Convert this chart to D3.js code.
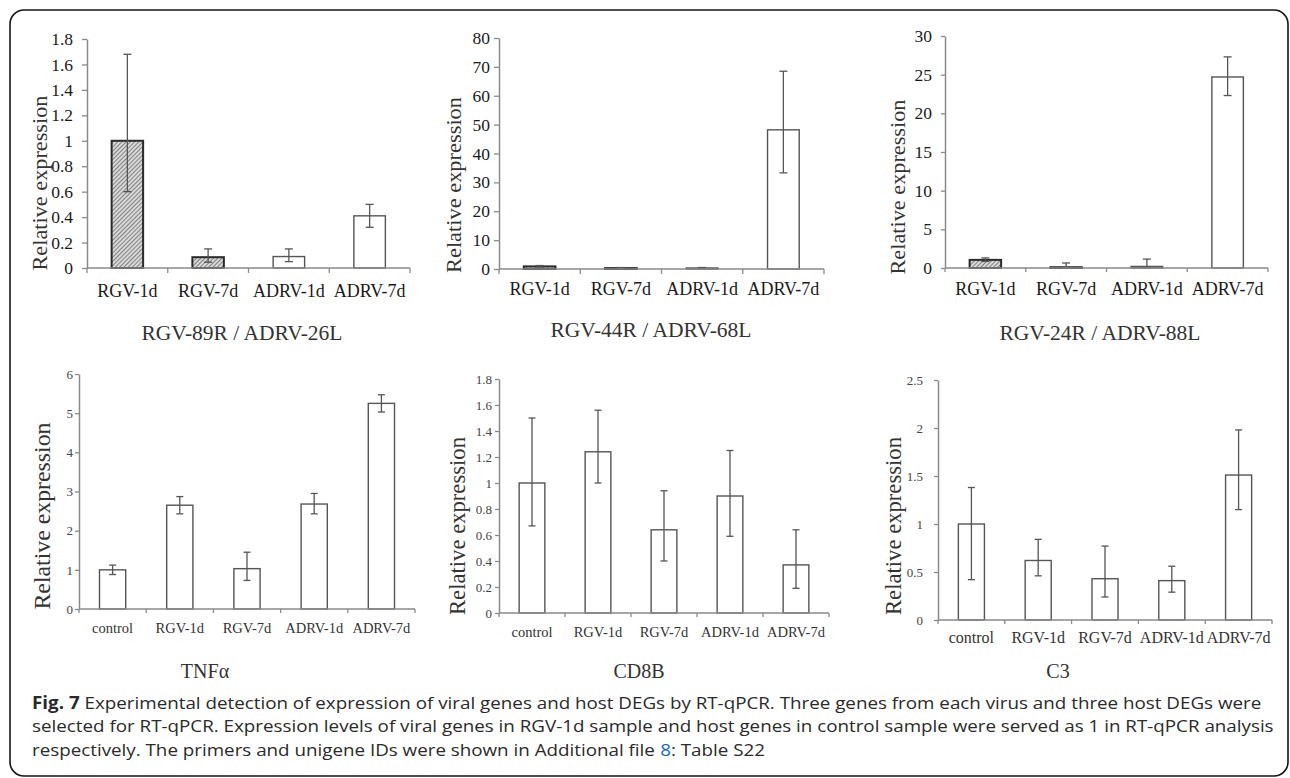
<!DOCTYPE html>
<html>
<head>
<meta charset="utf-8">
<script src="https://cdn.jsdelivr.net/npm/d3@7/dist/d3.min.js"></script>
<style>
  body { margin: 0; background: #fff; }
  svg { display: block; }
</style>
</head>
<body>
<svg width="1290" height="778"></svg>
<script>
// categories
const viralCats = ["RGV-1d", "RGV-7d", "ADRV-1d", "ADRV-7d"];
const hostCats = ["control", "RGV-1d", "RGV-7d", "ADRV-1d", "ADRV-7d"];
const viralHatch = [true, true, false, false];

// RGV-89R / ADRV-26L
const v89Mean = [1.0, 0.085, 0.09, 0.41];
const v89Hi = [1.68, 0.15, 0.15, 0.5];
const v89Lo = [0.6, 0.045, 0.05, 0.32];
const v89Ticks = [0, 0.2, 0.4, 0.6, 0.8, 1, 1.2, 1.4, 1.6, 1.8];

// RGV-44R / ADRV-68L
const v44Mean = [0.9, 0.3, 0.35, 48.2];
const v44Hi = [1.2, 0.5, 0.5, 68.5];
const v44Lo = [0.7, 0.15, 0.2, 33.3];
const v44Ticks = [0, 10, 20, 30, 40, 50, 60, 70, 80];

// RGV-24R / ADRV-88L
const v24Mean = [1.05, 0.1, 0.2, 24.7];
const v24Hi = [1.3, 0.65, 1.15, 27.3];
const v24Lo = [0.85, 0, 0, 22.3];
const v24Ticks = [0, 5, 10, 15, 20, 25, 30];

// host genes
const tnfMean = [1.0, 2.65, 1.03, 2.68, 5.25];
const tnfHi = [1.12, 2.87, 1.45, 2.95, 5.47];
const tnfLo = [0.88, 2.43, 0.73, 2.43, 5.03];
const tnfTicks = [0, 1, 2, 3, 4, 5, 6];

const cd8Mean = [1.0, 1.24, 0.64, 0.9, 0.37];
const cd8Hi = [1.5, 1.56, 0.94, 1.25, 0.64];
const cd8Lo = [0.67, 1.0, 0.4, 0.59, 0.19];
const cd8Ticks = [0, 0.2, 0.4, 0.6, 0.8, 1, 1.2, 1.4, 1.6, 1.8];

const c3Mean = [1.0, 0.62, 0.43, 0.41, 1.51];
const c3Hi = [1.38, 0.84, 0.77, 0.56, 1.98];
const c3Lo = [0.42, 0.46, 0.24, 0.29, 1.15];
const c3Ticks = [0, 0.5, 1, 1.5, 2, 2.5];

const captionLines = [
  "Experimental detection of expression of viral genes and host DEGs by RT-qPCR. Three genes from each virus and three host DEGs were",
  "selected for RT-qPCR. Expression levels of viral genes in RGV-1d sample and host genes in control sample were served as 1 in RT-qPCR analysis",
  "respectively. The primers and unigene IDs were shown in Additional file"
];

const serif = "'Liberation Serif','Times New Roman',serif";
const svg = d3.select("svg");

// frame round the figure
svg.append("rect")
  .attr("x", 10).attr("y", 10)
  .attr("width", 1278).attr("height", 766)
  .attr("rx", 14)
  .attr("fill", "none")
  .attr("stroke", "#151515")
  .attr("stroke-width", 1.6);

const defs = svg.append("defs");
const pat = defs.append("pattern")
  .attr("id", "hatch")
  .attr("patternUnits", "userSpaceOnUse")
  .attr("width", 3).attr("height", 3)
  .attr("patternTransform", "rotate(45)");
pat.append("rect").attr("width", 3).attr("height", 3).attr("fill", "#d8d8d8");
pat.append("line")
  .attr("x1", 0.5).attr("y1", 0).attr("x2", 0.5).attr("y2", 3)
  .attr("stroke", "#828282").attr("stroke-width", 1);

const topStyle = { tickFont: 17.5, tickColor: "#1a1a1a", catFont: 18, catColor: "#1a1a1a", labFont: 22, axis: "#8a8a8a", cap: 4 };
const botStyle = { tickFont: 13, tickColor: "#444", catFont: 14.5, catColor: "#333", labFont: 24, axis: "#8a8a8a", cap: 3.5 };

const panels = [
  { s: topStyle, cats: viralCats, mean: v89Mean, hi: v89Hi, lo: v89Lo, ticks: v89Ticks, hatch: viralHatch,
    x0: 87, x1: 410, yTop: 39, y0: 268, tick: 5, pad: 9, catY: 297,
    title: "RGV-89R / ADRV-26L", tx: 242, ty: 340, tFont: 21.5, labX: 47, labY: 183, labLen: 175 },
  { s: topStyle, cats: viralCats, mean: v44Mean, hi: v44Hi, lo: v44Lo, ticks: v44Ticks, hatch: viralHatch,
    x0: 499, x1: 824, yTop: 38, y0: 269, tick: 5, pad: 4, catY: 295,
    title: "RGV-44R / ADRV-68L", tx: 651, ty: 337, tFont: 21.5, labX: 461, labY: 185, labLen: 176 },
  { s: topStyle, cats: viralCats, mean: v24Mean, hi: v24Hi, lo: v24Lo, ticks: v24Ticks, hatch: viralHatch,
    x0: 945, x1: 1268, yTop: 36, y0: 268, tick: 4, pad: 9, catY: 295,
    title: "RGV-24R / ADRV-88L", tx: 1100, ty: 340, tFont: 21.5, labX: 905, labY: 187, labLen: 175 },
  { s: botStyle, cats: hostCats, mean: tnfMean, hi: tnfHi, lo: tnfLo, ticks: tnfTicks,
    x0: 79, x1: 415, yTop: 374, y0: 609, tick: 4, pad: 2, catY: 633,
    title: "TNFα", tx: 205, ty: 678, tFont: 20, labX: 50, labY: 516, labLen: 187 },
  { s: botStyle, cats: hostCats, mean: cd8Mean, hi: cd8Hi, lo: cd8Lo, ticks: cd8Ticks,
    x0: 499, x1: 829, yTop: 379, y0: 613, tick: 4, pad: 3, catY: 637,
    title: "CD8B", tx: 639, ty: 678, tFont: 20, labX: 465, labY: 526, labLen: 178 },
  { s: botStyle, cats: hostCats, mean: c3Mean, hi: c3Hi, lo: c3Lo, ticks: c3Ticks,
    x0: 938, x1: 1272, yTop: 380, y0: 620, tick: 4, pad: 11, catY: 643, catFont: 16,
    title: "C3", tx: 1058, ty: 678, tFont: 20, labX: 901, labY: 526, labLen: 178 }
];

panels.forEach(drawPanel);

function drawPanel(p) {
  const s = p.s;
  const g = svg.append("g");
  const x = d3.scaleBand()
    .domain(p.cats)
    .range([p.x0, p.x1])
    .paddingInner(0.61)
    .paddingOuter(0.305);
  const y = d3.scaleLinear()
    .domain([0, d3.max(p.ticks)])
    .range([p.y0, p.yTop]);

  const rows = p.cats.map((c, i) => ({
    c: c, v: p.mean[i], hi: p.hi[i], lo: p.lo[i], hatch: p.hatch ? p.hatch[i] : false
  }));

  g.selectAll("rect.bar")
    .data(rows)
    .join("rect")
    .attr("class", "bar")
    .attr("x", d => x(d.c))
    .attr("width", x.bandwidth())
    .attr("y", d => y(d.v))
    .attr("height", d => y(0) - y(d.v))
    .attr("fill", d => (d.hatch ? "url(#hatch)" : "#fff"))
    .attr("stroke", d => (d.hatch ? "#2a2a2a" : "#555"))
    .attr("stroke-width", d => (d.hatch ? 2 : 1.4));

  // error bars
  const eb = g.selectAll("g.err").data(rows).join("g").attr("class", "err")
    .attr("stroke", "#555").attr("stroke-width", 1.3);
  eb.append("line")
    .attr("x1", d => x(d.c) + x.bandwidth() / 2)
    .attr("x2", d => x(d.c) + x.bandwidth() / 2)
    .attr("y1", d => y(d.hi))
    .attr("y2", d => y(d.lo));
  ["hi", "lo"].forEach(k => {
    eb.append("line")
      .attr("x1", d => x(d.c) + x.bandwidth() / 2 - s.cap)
      .attr("x2", d => x(d.c) + x.bandwidth() / 2 + s.cap)
      .attr("y1", d => y(d[k]))
      .attr("y2", d => y(d[k]));
  });

  // y axis
  const ya = g.append("g")
    .attr("transform", `translate(${p.x0},0)`)
    .call(d3.axisLeft(y)
      .tickValues(p.ticks)
      .tickSize(p.tick)
      .tickSizeOuter(0)
      .tickPadding(p.pad)
      .tickFormat(d => String(+d.toFixed(1))));
  ya.select(".domain").attr("stroke", s.axis).attr("stroke-width", 1.5);
  ya.selectAll(".tick line").attr("stroke", s.axis).attr("stroke-width", 1.3);
  ya.selectAll(".tick text")
    .attr("font-family", serif)
    .attr("font-size", s.tickFont)
    .attr("fill", s.tickColor);

  // x axis: line with ticks at the category boundaries
  const xa = g.append("g").attr("transform", `translate(0,${p.y0})`);
  xa.append("line")
    .attr("x1", p.x0).attr("x2", p.x1)
    .attr("stroke", s.axis).attr("stroke-width", 1.5);
  xa.selectAll("line.bt")
    .data(d3.range(p.cats.length + 1))
    .join("line")
    .attr("class", "bt")
    .attr("x1", i => p.x0 + i * x.step())
    .attr("x2", i => p.x0 + i * x.step())
    .attr("y1", 0).attr("y2", p.tick)
    .attr("stroke", s.axis).attr("stroke-width", 1.3);

  g.selectAll("text.cat")
    .data(p.cats)
    .join("text")
    .attr("class", "cat")
    .attr("x", d => x(d) + x.bandwidth() / 2)
    .attr("y", p.catY)
    .attr("text-anchor", "middle")
    .attr("font-family", serif)
    .attr("font-size", p.catFont || s.catFont)
    .attr("fill", s.catColor)
    .text(d => d);

  g.append("text")
    .attr("transform", `translate(${p.labX},${p.labY}) rotate(-90)`)
    .attr("text-anchor", "middle")
    .attr("font-family", serif)
    .attr("font-size", s.labFont)
    .attr("fill", "#333")
    .attr("textLength", p.labLen)
    .attr("lengthAdjust", "spacingAndGlyphs")
    .text("Relative expression");

  g.append("text")
    .attr("x", p.tx).attr("y", p.ty)
    .attr("text-anchor", "middle")
    .attr("font-family", serif)
    .attr("font-size", p.tFont)
    .attr("fill", "#333")
    .text(p.title);
}

// caption: 17px text, stretched sideways so line 1 spans like the original
const capFont = "'Open Sans','Noto Sans',sans-serif";
const capSize = 17;
const capY = [709, 732.5, 756];
const space = capSize * 0.26;

const capOuter = svg.append("g").attr("transform", "translate(32,0)");
const cap = capOuter.append("g")
  .attr("font-family", capFont)
  .attr("font-size", capSize)
  .attr("fill", "#2a2a2a");

// pieces of a line placed one after the other, returns the line width
function putLine(parts, y) {
  let cx = 0;
  parts.forEach(pt => {
    const t = cap.append("text")
      .attr("x", cx).attr("y", y)
      .attr("font-weight", pt.bold ? "bold" : null)
      .attr("fill", pt.color || null)
      .text(pt.text);
    cx += t.node().getComputedTextLength() + (pt.gap || 0);
  });
  return cx;
}
const w0 = putLine([{ text: "Fig. 7", bold: true, gap: space }, { text: captionLines[0] }], capY[0]);
putLine([{ text: captionLines[1] }], capY[1]);
putLine([
  { text: captionLines[2], gap: space },
  { text: "8", color: "#1565c0" },
  { text: ": Table S22" }
], capY[2]);
cap.attr("transform", `scale(${1230 / w0},1)`);
</script>
</body>
</html>
